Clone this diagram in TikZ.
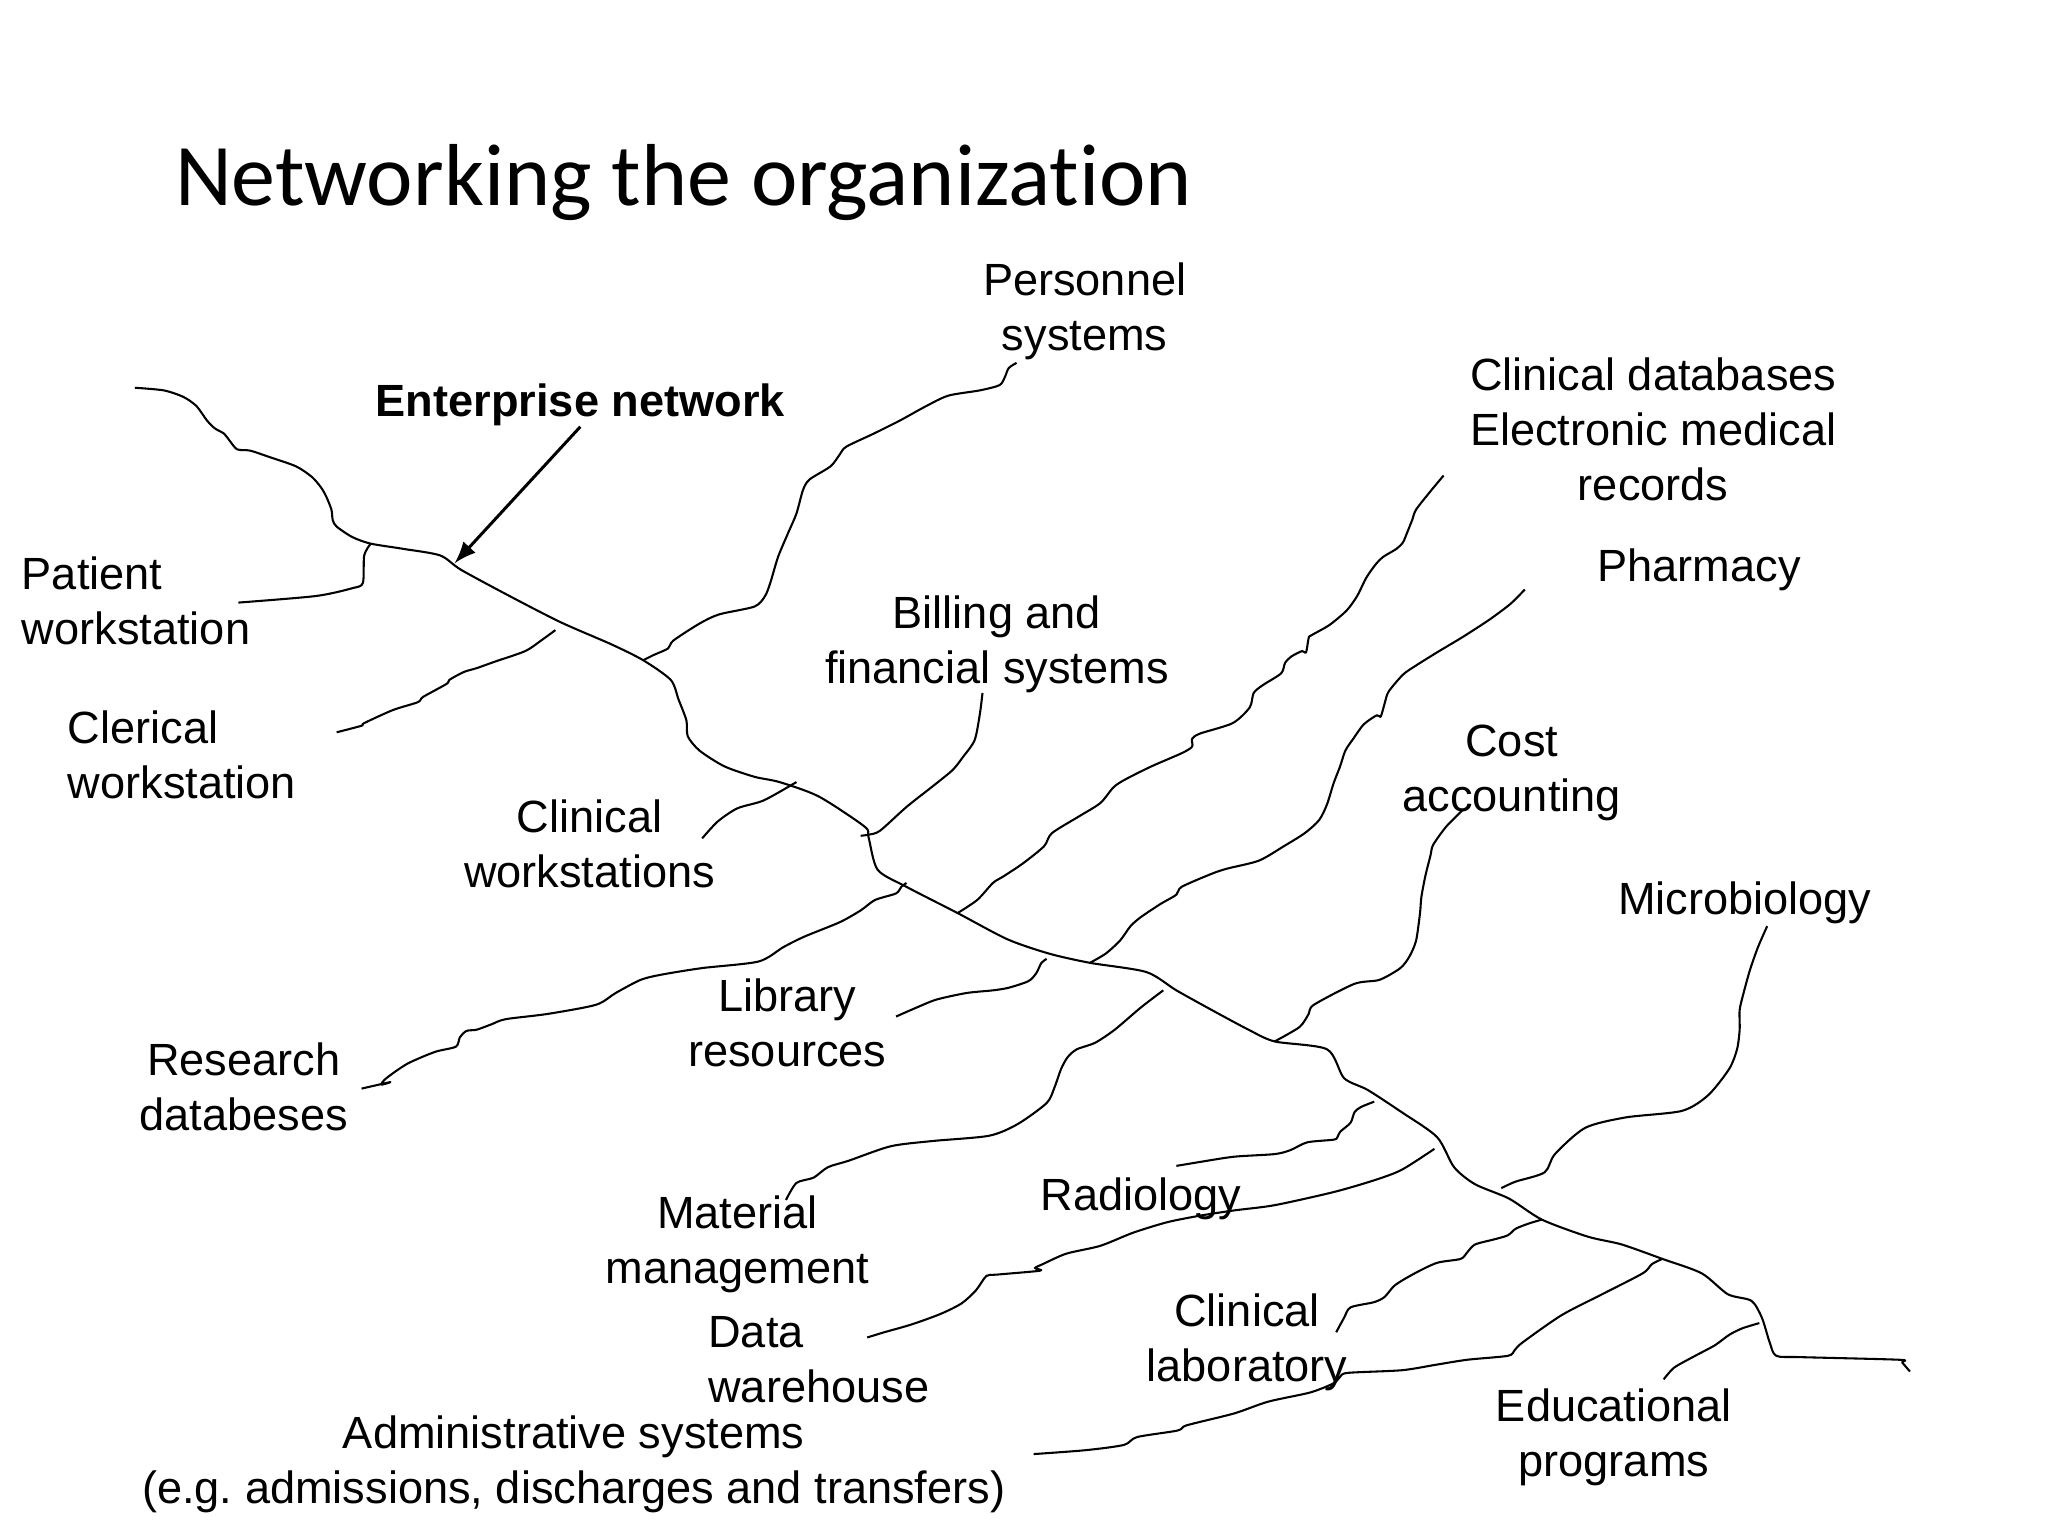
\documentclass[tikz,border=0pt]{standalone}
\usepackage{fontspec}
\setmainfont{Liberation Sans}
\newfontfamily\slidefont[Ligatures=NoCommon]{Carlito}
\begin{document}
\begin{tikzpicture}[>=latex,line join=round,x=0.01cm,y=-0.01cm,
  lbl/.style={font=\fontsize{9.8pt}{11.95pt}\selectfont,align=center,inner sep=0pt},
  wire/.style={black,line width=0.45pt},
  ]
\useasboundingbox (0,0) rectangle (1563.4,1172.5);
%%
\node (title) at (133,156.5) [anchor=base west,inner sep=0pt,font=\slidefont\fontsize{19.1pt}{22pt}\selectfont] {Networking the organization};
\node (enet) at (443,309) [lbl,font=\fontsize{9.8pt}{11.95pt}\selectfont\bfseries] {Enterprise network};
\node (personnel) at (828,238) [lbl] {Personnel\\systems};
\node (emr) at (1262,328) [lbl] {Clinical databases\\Electronic medical\\records};
\node (pharmacy) at (1297,435) [lbl] {Pharmacy};
\node (patient) at (16,459) [lbl,anchor=west,align=left] {Patient\\workstation};
\node (billing) at (761,492) [lbl] {Billing and\\financial systems};
\node (clerical) at (51,576) [lbl,anchor=west,align=left] {Clerical\\workstation};
\node (cost) at (1154,590) [lbl] {Cost\\accounting};
\node (clinws) at (450,644) [lbl] {Clinical\\workstations};
\node (micro) at (1332,689) [lbl] {Microbiology};
\node (library) at (601,781) [lbl] {Library\\resources};
\node (research) at (186,830) [lbl] {Research\\databeses};
\node (material) at (563,950) [lbl] {Material\\management};
\node (radiology) at (871,915) [lbl] {Radiology};
\node (clinlab) at (952,1025) [lbl] {Clinical\\laboratory};
\node (datawh) at (540,1038) [lbl,anchor=west,align=left] {Data\\warehouse};
\node (admin) at (438,1118) [lbl] {Administrative systems\\(e.g.\ admissions, discharges and transfers)};
\node (edu) at (1232,1097) [lbl] {Educational\\programs};
%
\coordinate (t_start) at (103,296);
\coordinate (t_end) at (1458,1047);
\coordinate (j_patient) at (283,415);
\coordinate (enet_tip) at (347,430);
\coordinate (j_personnel) at (491,504);
\coordinate (j_emr) at (731,697);
\coordinate (j_pharmacy) at (832,735);
\coordinate (j_cost) at (973,795);
\coordinate (j_clinlab) at (1177,931);
\coordinate (j_admin) at (1269,961);
%
\coordinate (e_patient) at (182,460);
\coordinate (e_clerical_a) at (424,481);
\coordinate (e_clerical_b) at (257,559);
\coordinate (e_personnel) at (776,277);
\coordinate (e_clinws_a) at (608,597);
\coordinate (e_clinws_b) at (536,640);
\coordinate (e_billing_a) at (657,638);
\coordinate (e_billing_b) at (750,529);
\coordinate (e_emr) at (1102,363);
\coordinate (e_pharmacy) at (1164,450);
\coordinate (e_research_a) at (692,674);
\coordinate (e_research_b) at (276,831);
\coordinate (e_library_a) at (799,732);
\coordinate (e_library_b) at (684,776);
\coordinate (e_material_a) at (888,756);
\coordinate (e_material_b) at (600,916);
\coordinate (e_cost) at (1117,618);
\coordinate (e_micro_a) at (1146,907);
\coordinate (e_micro_b) at (1349,707);
\coordinate (e_radiology_a) at (1049,841);
\coordinate (e_radiology_b) at (898,890);
\coordinate (e_datawh_a) at (1095,877);
\coordinate (e_datawh_b) at (662,1021);
\coordinate (e_clinlab) at (1020,1017);
\coordinate (e_admin) at (789,1110);
\coordinate (e_edu_a) at (1343,1010);
\coordinate (e_edu_b) at (1270,1053);
%% enterprise network
\draw [wire] plot [smooth,tension=0.45] coordinates {(t_start) (125,298) (140,303) (150,310) (158,321) (164,327) (171,331) (175,336) (181,343) (191,344) (206,349) (226,356) (238,364) (245,372) (249,379) (253,389) (254,397) (257,402) (269,410) (j_patient) (308,419) (336,424) (352,435) (389,455) (428,475) (467,492) (j_personnel) (512,519) (518,534) (524,550) (525,562) (534,573) (553,585) (576,593) (595,597) (625,608) (660,631) (663,639) (670,664) (692,677) (j_emr) (769,717) (801,728) (j_pharmacy) (875,742) (898,756) (925,771) (953,786) (j_cost) (1013,801) (1026,823) (1044,832) (1070,849) (1097,868) (1110,891) (1126,904) (1152,915) (j_clinlab) (1212,944) (1238,950) (j_admin) (1299,972) (1319,988) (1337,993) (1345,1006) (1351,1025) (1356,1035) (1375,1036) (1450,1038) (1452,1040) (t_end)};
\draw [black,->,line width=0.65pt] (enet.south) -- (enet_tip);
%% branches
\draw [wire] plot [smooth,tension=0.45] coordinates {(j_patient) (278,424) (277,445) (269,449) (241,455) (e_patient)};
\draw [wire] plot [smooth,tension=0.45] coordinates {(e_clerical_a) (413,489) (401,497) (378,505) (364,510) (354,513) (343,519) (341,522) (323,532) (319,536) (300,542) (278,552) (276,554) (e_clerical_b)};
\draw [wire] plot [smooth,tension=0.45] coordinates {(j_personnel) (499,500) (510,495) (514,489) (534,476) (549,469) (576,463) (584,455) (588,445) (594,425) (602,406) (608,392) (613,374) (618,366) (634,356) (641,347) (646,341) (667,331) (687,321) (707,310) (724,302) (748,298) (763,294) (767,288) (770,281) (e_personnel)};
\draw [wire] plot [smooth,tension=0.45] coordinates {(e_clinws_a) (583,611) (563,617) (548,627) (e_clinws_b)};
\draw [wire] plot [smooth,tension=0.45] coordinates {(e_billing_a) (664,637) (672,634) (692,616) (711,601) (727,588) (735,578) (744,565) (748,545) (e_billing_b)};
\draw [wire] plot [smooth,tension=0.45] coordinates {(j_emr) (746,687) (758,674) (766,669) (781,659) (797,646) (803,636) (824,623) (840,613) (850,601) (859,595) (879,585) (902,575) (910,570) (910,564) (916,560) (941,552) (954,540) (957,529) (964,523) (978,514) (981,506) (986,501) (994,497) (997,498) (999,487) (1001,485) (1015,477) (1028,466) (1036,455) (1043,441) (1050,431) (1056,425) (1066,419) (1071,414) (1074,407) (1078,397) (1081,389) (1092,375) (e_emr)};
\draw [wire] plot [smooth,tension=0.45] coordinates {(j_pharmacy) (844,728) (855,718) (863,707) (871,700) (886,690) (898,683) (902,677) (925,667) (937,663) (961,657) (980,646) (996,636) (1007,626) (1013,614) (1018,598) (1023,585) (1027,573) (1033,564) (1041,553) (1051,546) (1054,547) (1057,537) (1060,528) (1071,515) (1081,508) (1097,498) (1117,486) (1137,473) (1153,461) (e_pharmacy)};
\draw [wire] plot [smooth,tension=0.45] coordinates {(e_research_a) (688,677) (684,682) (668,687) (657,695) (641,704) (614,715) (598,723) (579,734) (536,739) (505,744) (489,748) (470,758) (455,767) (418,774) (386,778) (375,782) (364,786) (356,787) (351,792) (348,799) (332,803) (311,812) (295,823) (291,828) (298,826) (e_research_b)};
\draw [wire] plot [smooth,tension=0.45] coordinates {(e_library_a) (795,735) (791,743) (785,749) (770,754) (758,756) (738,758) (715,763) (700,769) (e_library_b)};
\draw [wire] plot [smooth,tension=0.45] coordinates {(e_material_a) (871,769) (851,786) (836,796) (822,801) (815,807) (810,816) (805,830) (799,842) (777,858) (755,867) (712,871) (680,875) (648,886) (632,891) (621,899) (608,903) (e_material_b)};
\draw [wire] plot [smooth,tension=0.45] coordinates {(j_cost) (992,784) (999,774) (1003,767) (1034,751) (1053,748) (1069,739) (1076,730) (1081,718) (1084,697) (1085,685) (1088,669) (1092,653) (1094,645) (1104,631) (e_cost)};
\draw [wire] plot [smooth,tension=0.45] coordinates {(e_micro_a) (1157,902) (1179,895) (1187,881) (1210,861) (1241,853) (1284,848) (1304,836) (1320,816) (1326,801) (1328,786) (1328,771) (1331,758) (1336,740) (1342,723) (e_micro_b)};
\draw [wire] plot [smooth,tension=0.45] coordinates {(e_radiology_a) (1039,845) (1034,849) (1031,857) (1023,864) (1021,868) (1018,870) (998,872) (985,878) (973,881) (942,883) (916,887) (e_radiology_b)};
\draw [wire] plot [smooth,tension=0.45] coordinates {(e_datawh_a) (1070,893) (1049,901) (1018,910) (973,920) (942,924) (916,928) (891,933) (865,941) (840,951) (814,957) (796,965) (790,968) (794,970) (761,973) (753,974) (745,985) (734,995) (718,1003) (696,1011) (675,1017) (e_datawh_b)};
\draw [wire] plot [smooth,tension=0.45] coordinates {(j_clinlab) (1167,934) (1157,938) (1151,943) (1141,946) (1126,950) (1120,956) (1115,961) (1097,964) (1080,972) (1065,981) (1057,990) (1049,994) (1031,998) (1026,1006) (e_clinlab)};
\draw [wire] plot [smooth,tension=0.45] coordinates {(j_admin) (1261,965) (1254,972) (1223,988) (1192,1004) (1162,1025) (1156,1031) (1151,1035) (1120,1038) (1095,1042) (1070,1046) (1029,1048) (1023,1051) (1018,1056) (1000,1063) (968,1070) (942,1079) (906,1088) (899,1092) (868,1097) (858,1103) (829,1107) (e_admin)};
\draw [wire] plot [smooth,tension=0.45] coordinates {(e_edu_a) (1330,1014) (1320,1019) (1309,1027) (1294,1035) (1278,1044) (e_edu_b)};
%
\end{tikzpicture}
\end{document}
